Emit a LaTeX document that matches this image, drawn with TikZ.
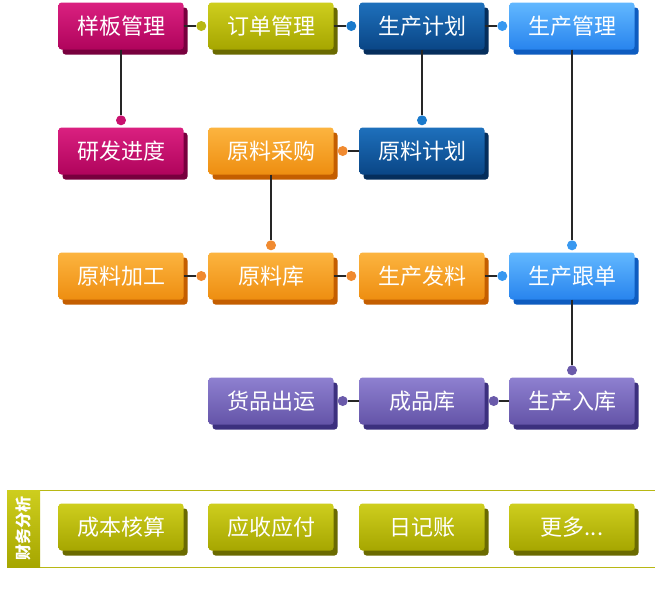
\documentclass[tikz,border=0pt]{standalone}
\usepackage{fontspec}
\setmainfont{Noto Sans CJK SC}
\usetikzlibrary{shadows,calc}
\definecolor{magT}{HTML}{DA2080}
\definecolor{magB}{HTML}{B0045C}
\definecolor{magS}{HTML}{78003E}
\definecolor{magD}{HTML}{C8106E}
\definecolor{olvT}{HTML}{CECE1E}
\definecolor{olvB}{HTML}{A6A600}
\definecolor{olvS}{HTML}{6A6A00}
\definecolor{olvD}{HTML}{B8B814}
\definecolor{dbT}{HTML}{1E70BC}
\definecolor{dbB}{HTML}{0A4686}
\definecolor{dbS}{HTML}{052E5C}
\definecolor{dbD}{HTML}{1A7ACC}
\definecolor{lbT}{HTML}{62B8FF}
\definecolor{lbB}{HTML}{2884EE}
\definecolor{lbS}{HTML}{0E5CC0}
\definecolor{lbD}{HTML}{3898F0}
\definecolor{orT}{HTML}{FCB440}
\definecolor{orB}{HTML}{EE8E10}
\definecolor{orS}{HTML}{C45E00}
\definecolor{orD}{HTML}{F08A30}
\definecolor{puT}{HTML}{8E80D0}
\definecolor{puB}{HTML}{6454A8}
\definecolor{puS}{HTML}{3C307E}
\definecolor{puD}{HTML}{6A5AAA}
\tikzset{
  box/.style={rounded corners=3pt, minimum width=125pt, minimum height=47pt,
    inner sep=0pt, text=white, font=\fontsize{22}{22}\selectfont},
  mag/.style={box, top color=magT, bottom color=magB,
    drop shadow={shadow xshift=4pt, shadow yshift=-5pt, fill=magS, opacity=1}},
  olv/.style={box, top color=olvT, bottom color=olvB,
    drop shadow={shadow xshift=4pt, shadow yshift=-5pt, fill=olvS, opacity=1}},
  dbl/.style={box, top color=dbT, bottom color=dbB,
    drop shadow={shadow xshift=4pt, shadow yshift=-5pt, fill=dbS, opacity=1}},
  lbl/.style={box, top color=lbT, bottom color=lbB,
    drop shadow={shadow xshift=4pt, shadow yshift=-5pt, fill=lbS, opacity=1}},
  ora/.style={box, top color=orT, bottom color=orB,
    drop shadow={shadow xshift=4pt, shadow yshift=-5pt, fill=orS, opacity=1}},
  pur/.style={box, top color=puT, bottom color=puB,
    drop shadow={shadow xshift=4pt, shadow yshift=-5pt, fill=puS, opacity=1}},
  dot/.style={circle, inner sep=0pt, minimum size=10pt},
  conn/.style={draw=black!85, line width=1.1pt},
}
\begin{document}
\begin{tikzpicture}[x=1pt, y=-1pt]
\clip (0,0) rectangle (655,590);
\fill[white] (0,0) rectangle (655,590);
% row 1
\node[mag] (b11) at (121,26) {样板管理};
\node[olv] (b12) at (271,26) {订单管理};
\node[dbl] (b13) at (422,26) {生产计划};
\node[lbl] (b14) at (572,26) {生产管理};
% row 2
\node[mag] (b21) at (121,151) {研发进度};
\node[ora] (b22) at (271,151) {原料采购};
\node[dbl] (b23) at (422,151) {原料计划};
% row 3
\node[ora] (b31) at (121,276) {原料加工};
\node[ora] (b32) at (271,276) {原料库};
\node[ora] (b33) at (422,276) {生产发料};
\node[lbl] (b34) at (572,276) {生产跟单};
% row 4
\node[pur] (b42) at (271,401) {货品出运};
\node[pur] (b43) at (422,401) {成品库};
\node[pur] (b44) at (572,401) {生产入库};
% bottom bar
\draw[olvD, line width=1pt] (7,490) rectangle (670,567);
\shade[top color=olvT, bottom color=olvB] (7,490) rectangle (40,567);
\node[rotate=90, text=white, font=\fontsize{16}{16}\selectfont\bfseries] (fin) at (23.5,528.5) {财务分析};
\node[olv] (c1) at (121,527) {成本核算};
\node[olv] (c2) at (271,527) {应收应付};
\node[olv] (c3) at (422,527) {日记账};
\node[olv] (c4) at (572,527) {更多...};
% dots
\node[dot, fill=olvD] (d12) at ($(b12.west)+(-7,0)$) {};
\node[dot, fill=dbD] (d13) at ($(b13.west)+(-8,0)$) {};
\node[dot, fill=lbD] (d14) at ($(b14.west)+(-7,0)$) {};
\node[dot, fill=magD] (d21) at ($(b21.north)+(0,-7)$) {};
\node[dot, fill=dbD] (d23) at ($(b23.north)+(0,-7)$) {};
\node[dot, fill=orD] (d22) at ($(b22.east)+(9,0)$) {};
\node[dot, fill=orD] (d32n) at ($(b32.north)+(0,-7)$) {};
\node[dot, fill=lbD] (d34n) at ($(b34.north)+(0,-7)$) {};
\node[dot, fill=orD] (d32w) at ($(b32.west)+(-7,0)$) {};
\node[dot, fill=orD] (d33) at ($(b33.west)+(-8,0)$) {};
\node[dot, fill=lbD] (d34w) at ($(b34.west)+(-7,0)$) {};
\node[dot, fill=puD] (d44) at ($(b44.north)+(0,-7)$) {};
\node[dot, fill=puD] (d43) at ($(b43.east)+(9,0)$) {};
\node[dot, fill=puD] (d42) at ($(b42.east)+(9,0)$) {};
% connectors
\draw[conn] (b11.east) -- (d12.west);
\draw[conn] (b12.east) -- (d13.west);
\draw[conn] (b13.east) -- (d14.west);
\draw[conn] (b11.south) -- (d21.north);
\draw[conn] (b13.south) -- (d23.north);
\draw[conn] (b23.west) -- (d22.east);
\draw[conn] (b22.south) -- (d32n.north);
\draw[conn] (b14.south) -- (d34n.north);
\draw[conn] (b31.east) -- (d32w.west);
\draw[conn] (b32.east) -- (d33.west);
\draw[conn] (b33.east) -- (d34w.west);
\draw[conn] (b34.south) -- (d44.north);
\draw[conn] (b44.west) -- (d43.east);
\draw[conn] (b43.west) -- (d42.east);
\end{tikzpicture}
\end{document}
